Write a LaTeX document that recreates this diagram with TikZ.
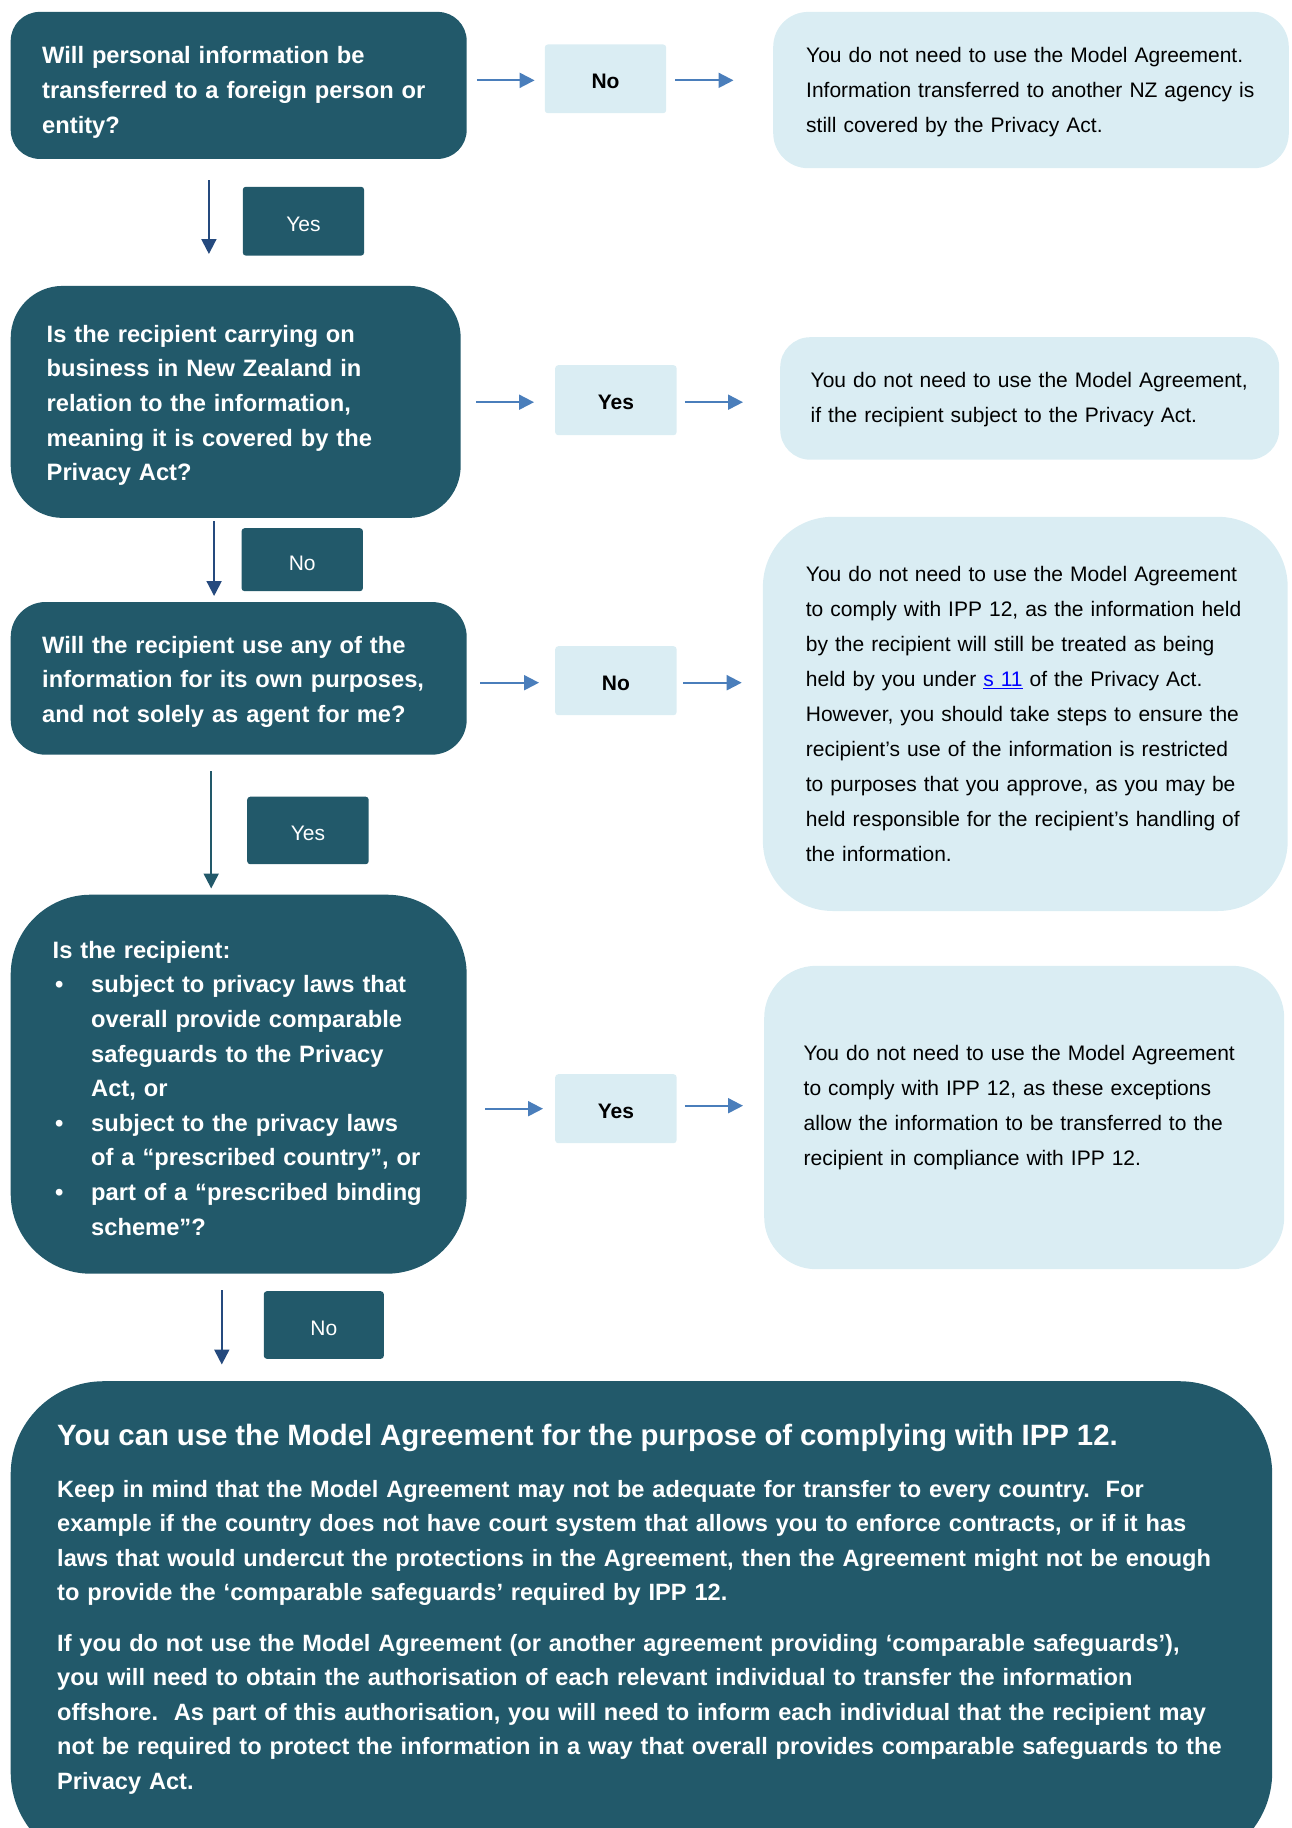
\documentclass[tikz,border=0pt]{standalone}
\usepackage{fontspec}
\setmainfont{Liberation Sans}
\usetikzlibrary{arrows.meta}
\definecolor{dteal}{HTML}{22596A}
\definecolor{lblue}{HTML}{DAEDF3}
\definecolor{arrblue}{HTML}{4A7EBB}
\definecolor{navyarr}{HTML}{254A7E}
\definecolor{linkblue}{HTML}{0000FF}
\newcommand\noWrap{\rightskip=0pt plus 1fil minus 300pt\relax}
\newcommand\bul{\makebox[38.5pt][l]{\hspace{2.5pt}\textbullet}}
\newcommand\ind{\hspace*{38.5pt}}
\begin{document}
\begin{tikzpicture}[x=1pt,y=-1pt,
  qbox/.style={fill=dteal,text=white,anchor=north west,align=left,inner ysep=0pt,font=\fontsize{23.7}{34.6}\selectfont\bfseries},
  rbox/.style={fill=lblue,text=black,anchor=north west,align=left,inner ysep=0pt,font=\fontsize{21}{35}\selectfont},
  lbl/.style={fill=lblue,text=black,anchor=north west,rounded corners=3pt,inner sep=0pt,text height=19pt,text depth=0pt,font=\fontsize{21}{25}\selectfont\bfseries},
  dlbl/.style={fill=dteal,text=white,anchor=north west,rounded corners=3pt,inner sep=0pt,text height=21pt,text depth=0pt,font=\fontsize{21}{25}\selectfont},
  rarr/.style={draw=arrblue,line width=2pt,-{Triangle[length=15pt,width=15pt]}},
  darr/.style={draw=navyarr,line width=2pt,-{Triangle[length=15pt,width=15pt]}},
]
\useasboundingbox (0,0) rectangle (1291,1828);
\clip (0,0) rectangle (1291,1828);

% ---- Question 1
\node[qbox,rounded corners=29pt,minimum width=456pt,minimum height=147pt,text width=393pt,inner xsep=31.5pt] (q1) at (10.5,11.7)
 {\noWrap Will personal information be\\transferred to a foreign person or\\entity?\par\vspace*{-14pt}};
\node[lbl,minimum width=121.4pt,minimum height=68.7pt] (no1) at (544.6,44.3) {No};
\node[rbox,rounded corners=35pt,minimum width=515.6pt,minimum height=156.3pt,text width=449.6pt,inner xsep=33pt] (r1) at (773,11.7)
 {\noWrap You do not need to use the Model Agreement.\\Information transferred to another NZ agency is\\still covered by the Privacy Act.\par\vspace*{-5pt}};
\draw[rarr] ([xshift=10pt,yshift=-1.5pt]q1.east |- no1.west) -- ([xshift=-10pt,yshift=-1.5pt]no1.west);
\draw[rarr] ([xshift=9pt,yshift=-1.5pt]no1.east) -- ([xshift=-39.5pt,yshift=-1.5pt]no1.east -| r1.west);

\node[dlbl,minimum width=121.3pt,minimum height=68.8pt] (yes1) at (242.6,186.6) {Yes};
\node[qbox,rounded corners=52pt,minimum width=450pt,minimum height=232pt,text width=378pt,inner xsep=36pt] (q2) at (10.5,285.7)
 {\noWrap Is the recipient carrying on\\business in New Zealand in\\relation to the information,\\meaning it is covered by the\\Privacy Act?\par\vspace*{-7pt}};
\draw[darr] ([xshift=-29.8pt,yshift=-21pt]q1.south) -- ([xshift=-29.8pt,yshift=31.7pt]q1.south |- q2.north);

% ---- Question 2
\node[lbl,minimum width=121.4pt,minimum height=70pt] (yes2) at (555,365) {Yes};
\node[rbox,rounded corners=30pt,minimum width=499pt,minimum height=122.5pt,text width=438pt,inner xsep=30.5pt] (r2) at (780,337)
 {\noWrap You do not need to use the Model Agreement,\\if the recipient subject to the Privacy Act.\par\vspace*{-2pt}};
\draw[rarr] ([xshift=15.4pt,yshift=-2pt]q2.east |- yes2.west) -- ([xshift=-21pt,yshift=-2pt]yes2.west);
\draw[rarr] ([xshift=8pt,yshift=-2pt]yes2.east) -- ([xshift=-37pt,yshift=-2pt]yes2.east -| r2.west);

\node[dlbl,minimum width=121.3pt,minimum height=63pt] (no2) at (241.4,528) {No};
\node[qbox,rounded corners=35pt,minimum width=456pt,minimum height=152.7pt,text width=393pt,inner xsep=31.5pt] (q3) at (10.5,601.8)
 {\noWrap Will the recipient use any of the\\information for its own purposes,\\and not solely as agent for me?\par\vspace*{-7pt}};
\draw[darr] ([xshift=-21.6pt,yshift=-3.2pt]q2.south) -- ([xshift=-21.6pt,yshift=5.8pt]q2.south |- q3.north);

% ---- Question 3
\node[lbl,minimum width=121.4pt,minimum height=69pt] (no3) at (555,646) {No};
\node[rbox,rounded corners=70pt,minimum width=524.8pt,minimum height=394.2pt,text width=438.8pt,inner xsep=43pt] (r3) at (762.7,516.6)
 {\noWrap You do not need to use the Model Agreement\\to comply with IPP 12, as the information held\\by the recipient will still be treated as being\\held by you under {\color{linkblue}\underline{s 11}} of the Privacy Act.\\However, you should take steps to ensure the\\recipient’s use of the information is restricted\\to purposes that you approve, as you may be\\held responsible for the recipient’s handling of\\the information.};
\draw[rarr] ([xshift=13.5pt,yshift=-2pt]q3.east |- no3.west) -- ([xshift=-16pt,yshift=-2pt]no3.west);
\draw[rarr] ([xshift=6.6pt,yshift=-2pt]no3.east) -- ([xshift=-21pt,yshift=-2pt]no3.east -| r3.west);

\node[dlbl,minimum width=121.5pt,minimum height=67.5pt] (yes3) at (247,796.5) {Yes};
\node[qbox,rounded corners=80pt,minimum width=456pt,minimum height=379pt,text width=372pt,inner xsep=42pt] (q4) at (10.5,894.5)
 {\noWrap Is the recipient:\\
  \bul subject to privacy laws that\\
  \ind overall provide comparable\\
  \ind safeguards to the Privacy\\
  \ind Act, or\\
  \bul subject to the privacy laws\\
  \ind of a “prescribed country”, or\\
  \bul part of a “prescribed binding\\
  \ind scheme”?\par\vspace*{-8pt}};
\draw[darr,draw=dteal] ([xshift=-27.5pt,yshift=-16.5pt]q3.south) -- ([xshift=-27.5pt,yshift=6pt]q3.south |- q4.north);

% ---- Question 4
\node[lbl,minimum width=121.4pt,minimum height=69pt] (yes4) at (555,1074) {Yes};
\node[rbox,rounded corners=52pt,minimum width=520pt,minimum height=303.4pt,text width=441pt,inner xsep=39.5pt] (r4) at (764,965.6)
 {\noWrap You do not need to use the Model Agreement\\to comply with IPP 12, as these exceptions\\allow the information to be transferred to the\\recipient in compliance with IPP 12.\par\vspace*{20pt}};
\draw[rarr] ([xshift=18.5pt]q4.east |- yes4.west) -- ([xshift=-12pt]yes4.west);
\draw[rarr] ([xshift=8pt,yshift=3pt]yes4.east) -- ([xshift=-21pt,yshift=3pt]yes4.east -| r4.west);

\node[dlbl,minimum width=120pt,minimum height=67.6pt] (no4) at (263.6,1291) {No};
\node[qbox,rounded corners=93pt,text width=1168.5pt,inner xsep=46.5pt,inner ysep=43pt,font=\fontsize{23.6}{34.6}\selectfont\bfseries] (fin) at (10.5,1381)
 {\noWrap{\fontsize{29.4}{34.6}\selectfont You can use the Model Agreement for the purpose of complying with IPP 12.\par}
  \vspace{17pt}
  Keep in mind that the Model Agreement may not be adequate for transfer to every country.\ \ For\\
  example if the country does not have court system that allows you to enforce contracts, or if it has\\
  laws that would undercut the protections in the Agreement, then the Agreement might not be enough\\
  to provide the ‘comparable safeguards’ required by IPP 12.\par
  \vspace{15.5pt}
  If you do not use the Model Agreement (or another agreement providing ‘comparable safeguards’),\\
  you will need to obtain the authorisation of each relevant individual to transfer the information\\
  offshore.\ \ As part of this authorisation, you will need to inform each individual that the recipient may\\
  not be required to protect the information in a way that overall provides comparable safeguards to the\\
  Privacy Act.\par\vspace*{28pt}};
\draw[darr] ([xshift=-16.9pt,yshift=-16.5pt]q4.south) -- ([xshift=-16.9pt,yshift=16.5pt]q4.south |- fin.north);
\end{tikzpicture}
\end{document}
